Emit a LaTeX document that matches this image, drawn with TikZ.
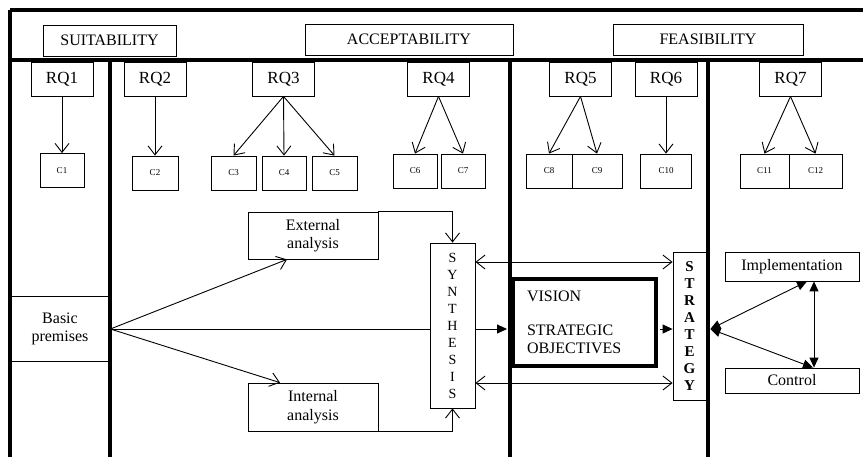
\documentclass[tikz,border=0pt]{standalone}
\usepackage{fontspec}
\setmainfont{Liberation Serif}
\usetikzlibrary{arrows.meta, positioning, calc}

\begin{document}
\begin{tikzpicture}[x=1pt, y=-1pt,
    box/.style={draw, line width=0.8pt, inner sep=0pt, align=center, font=\fontsize{16}{18.5}\selectfont},
    rqbox/.style={box, minimum width=62, minimum height=34, font=\fontsize{17}{19}\selectfont},
    cbox/.style={box, minimum height=34, font=\fontsize{9}{10}\selectfont},
    wall/.style={line width=3.6pt},
    link/.style={line width=0.9pt},
    barb/.style={link, -{Straight Barb[length=9pt,width=14pt]}},
    dbl barb/.style={link, {Straight Barb[length=9pt,width=14pt]}-{Straight Barb[length=9pt,width=14pt]}},
    solid head/.style={link, -{Triangle[length=10pt,width=9pt]}},
    dbl solid/.style={link, {Triangle[length=10pt,width=9pt]}-{Triangle[length=10pt,width=9pt]}}]
        \useasboundingbox (0,0) rectangle (863,456);

        % Headers
        \node[box, minimum width=133, minimum height=31] (suit) at (109.5,40.5) {SUITABILITY};
        \node[box, minimum width=208, minimum height=31] (accept) at (409,39.5) {ACCEPTABILITY};
        \node[box, minimum width=190, minimum height=31] (feas) at (708,39.5) {FEASIBILITY};

        % Research questions and criteria
        \foreach \n/\x in {1/62, 2/155, 3/283.5, 4/438.5, 5/580.5, 6/666, 7/790.5} {
            \node[rqbox] (rq\n) at (\x,79) {RQ\n};
        }
        \foreach \n/\x/\y/\w in {1/62/170.5/44, 2/155/173/46, 3/233.5/173/45, 4/284/173/44, 5/334.5/173/45, 6/415/171/44,
                7/463/171/44, 8/549/171/46, 9/597/171/50, 10/666/171/51, 11/764.5/171/49, 12/815.5/171/53} {
            \node[cbox, minimum width=\w] (c\n) at (\x,\y) {C\n};
        }
        \foreach \a/\b in {1/1, 2/2, 3/3, 3/4, 3/5, 4/6, 4/7, 5/8, 5/9, 6/10, 7/11, 7/12} {
            \draw[barb] (rq\a.south) -- (c\b.north);
        }

        % Process
        \coordinate (axis) at (0,329);
        \coordinate (upper) at (0,262);
        \coordinate (lower) at (0,383);
        \node[box, minimum width=100, minimum height=65] (basic) at (60,329) {Basic\\premises};
        \node[box, minimum width=130, minimum height=47] (ext) at (313,235.5) {External\\analysis};
        \node[box, minimum width=130, minimum height=48] (int) at (313,407) {Internal\\analysis};
        \node[box, minimum width=45, minimum height=165, font=\fontsize{14}{17}\selectfont] (synth) at (452.5,325.5)
            {S\\Y\\N\\T\\H\\E\\S\\I\\S};
        \node[box, line width=4pt, minimum width=143, minimum height=87, inner xsep=14pt, text width=115pt, align=left]
            (vision) at (584.5,322.5) {VISION\\[15pt]STRATEGIC\\OBJECTIVES};
        \node[box, minimum width=33, minimum height=148, font=\bfseries\fontsize{15}{17}\selectfont] (strat) at (689.5,326)
            {S\\T\\R\\A\\T\\E\\G\\Y};
        \node[box, minimum width=134, minimum height=29] (impl) at (792,266.5) {Implementation};
        \node[box, minimum width=134, minimum height=25] (ctrl) at (792,380.5) {Control};

        \draw[barb] (basic.east) -- ($(ext.south)+(-26,0)$);
        \draw[barb] (basic.east) -- ($(int.north)+(-33,0)$);
        \draw[link] (basic.east) -- (synth.west |- axis);
        \draw[barb] (ext.north east) -| (synth.north);
        \draw[barb] (int.south east) -| (synth.south);
        \draw[dbl barb] (synth.east |- upper) -- (strat.west |- upper);
        \draw[dbl barb] (synth.east |- lower) -- (strat.west |- lower);
        \draw[solid head] (synth.east |- axis) -- ([xshift=-4pt]vision.west |- axis);
        \draw[solid head] ([xshift=2pt]vision.east |- axis) -- (strat.west |- axis);
        \draw[dbl solid] ([xshift=4pt]strat.east |- axis) -- ($(impl.south)+(15,0)$);
        \draw[dbl solid] ([xshift=4pt]strat.east |- axis) -- ($(ctrl.north)+(21,0)$);
        \draw[dbl solid] ($(impl.south)+(22,0)$) -- ($(ctrl.north)+(22,0)$);

        % Frame
        \draw[wall] (10,10) -- (870,10);
        \draw[wall] (10,10) -- (10,460);
        \draw[wall] (10,60) -- (870,60);
        \foreach \x in {110,510,708} {
            \draw[wall] (\x,60) -- (\x,460);
        }
    \end{tikzpicture}
\end{document}
